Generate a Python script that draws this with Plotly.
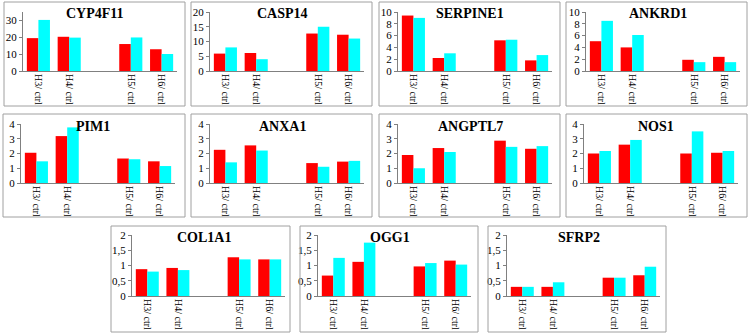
import plotly.graph_objects as go

categories = ["H3/ ctrl", "H4/ ctrl", " ", "H5/ ctrl", "H6/ ctrl"]
genes = ["CYP4F11", "CASP14", "SERPINE1", "ANKRD1", "PIM1", "ANXA1",
         "ANGPTL7", "NOS1", "COL1A1", "OGG1", "SFRP2"]

red_CYP4F11 = [19.5, 20.3, None, 16.0, 12.9]
cyan_CYP4F11 = [30.3, 19.8, None, 19.9, 10.1]
red_CASP14 = [5.9, 6.1, None, 12.7, 12.3]
cyan_CASP14 = [8.0, 4.0, None, 15.0, 11.0]
red_SERPINE1 = [9.4, 2.2, None, 5.2, 1.8]
cyan_SERPINE1 = [9.0, 3.0, None, 5.3, 2.7]
red_ANKRD1 = [5.05, 4.0, None, 1.9, 2.4]
cyan_ANKRD1 = [8.5, 6.1, None, 1.5, 1.5]
red_PIM1 = [2.05, 3.18, None, 1.66, 1.47]
cyan_PIM1 = [1.47, 3.77, None, 1.61, 1.15]
red_ANXA1 = [2.25, 2.55, None, 1.35, 1.45]
cyan_ANXA1 = [1.4, 2.2, None, 1.1, 1.5]
red_ANGPTL7 = [1.9, 2.37, None, 2.87, 2.32]
cyan_ANGPTL7 = [1.0, 2.1, None, 2.45, 2.5]
red_NOS1 = [2.0, 2.6, None, 2.0, 2.05]
cyan_NOS1 = [2.17, 2.92, None, 3.5, 2.17]
red_COL1A1 = [0.88, 0.92, None, 1.27, 1.2]
cyan_COL1A1 = [0.8, 0.85, None, 1.2, 1.2]
red_OGG1 = [0.67, 1.12, None, 0.97, 1.16]
cyan_OGG1 = [1.25, 1.75, None, 1.08, 1.03]
red_SFRP2 = [0.3, 0.3, None, 0.6, 0.68]
cyan_SFRP2 = [0.3, 0.45, None, 0.6, 0.96]

red_vals = [red_CYP4F11, red_CASP14, red_SERPINE1, red_ANKRD1, red_PIM1, red_ANXA1,
            red_ANGPTL7, red_NOS1, red_COL1A1, red_OGG1, red_SFRP2]
cyan_vals = [cyan_CYP4F11, cyan_CASP14, cyan_SERPINE1, cyan_ANKRD1, cyan_PIM1, cyan_ANXA1,
             cyan_ANGPTL7, cyan_NOS1, cyan_COL1A1, cyan_OGG1, cyan_SFRP2]

y_max = [35, 20, 10, 10, 4, 4, 4, 4, 2, 2, 2]
y_dtick = [10, 5, 2, 2, 1, 1, 1, 1, 0.5, 0.5, 0.5]

W, H = 752, 336
# pixel layout: (axis_x0, axis_x1, zero_y, top_y, box_x0, box_x1, box_y0, box_y1)
panels = [
    (23, 177, 71, 12, 4, 185, 2, 106),
    (210, 364, 71, 12, 191, 372, 2, 106),
    (398, 552, 71, 12, 379, 560, 2, 106),
    (586, 740, 71, 12, 566, 747, 2, 106),
    (21, 175, 183, 124, 3, 185, 114, 217),
    (210, 364, 183, 124, 191, 372, 114, 217),
    (398, 552, 183, 124, 379, 560, 114, 217),
    (584, 738, 183, 124, 566, 747, 114, 217),
    (132, 285, 296, 235, 111, 290, 226, 332),
    (318, 471, 296, 235, 300, 478, 226, 332),
    (507, 660, 296, 235, 488, 666, 226, 332),
]

font_fam = "Liberation Serif, DejaVu Serif, serif"
fig = go.Figure()
layout = dict(
    width=W, height=H, margin=dict(l=0, r=0, t=0, b=0, autoexpand=False),
    paper_bgcolor="white", plot_bgcolor="white", showlegend=False,
    barmode="group", bargap=0.25, bargroupgap=0,
    font=dict(family=font_fam, color="black", size=10),
)
shapes = []
annotations = []

def fmt(v):
    return ("%g" % v).replace(".", ",")

for i, g in enumerate(genes):
    ax0, ax1, zy, ty, bx0, bx1, by0, by1 = panels[i]
    n = i + 1
    xa = "x" if n == 1 else "x%d" % n
    ya = "y" if n == 1 else "y%d" % n
    fig.add_trace(go.Bar(x=categories, y=red_vals[i], marker=dict(color="#FF0000", line=dict(width=0)),
                         xaxis=xa, yaxis=ya))
    fig.add_trace(go.Bar(x=categories, y=cyan_vals[i], marker=dict(color="#00FFFF", line=dict(width=0)),
                         xaxis=xa, yaxis=ya))
    tv = []
    v = 0.0
    while v <= y_max[i] + 1e-9:
        tv.append(round(v, 3))
        v += y_dtick[i]
    layout["xaxis" + ("" if n == 1 else str(n))] = dict(
        domain=[ax0 / W, ax1 / W], anchor=ya, type="category",
        categoryorder="array", categoryarray=categories, range=[-0.5, 4.5],
        showline=True, linecolor="#808080", linewidth=1, ticks="", tickangle=90,
        tickfont=dict(family=font_fam, size=10, color="black"), showgrid=False,
        fixedrange=True, automargin=False,
    )
    layout["yaxis" + ("" if n == 1 else str(n))] = dict(
        domain=[1 - zy / H, 1 - ty / H], anchor=xa, range=[0, y_max[i]],
        tickvals=tv, ticktext=[fmt(t) for t in tv],
        showline=True, linecolor="#808080", linewidth=1, ticks="outside", ticklen=3,
        tickcolor="#808080", showgrid=False, zeroline=False,
        tickfont=dict(family=font_fam, size=11, color="black"), fixedrange=True,
        automargin=False,
    )
    shapes.append(dict(type="rect", xref="paper", yref="paper",
                       x0=bx0 / W, x1=bx1 / W, y0=1 - by1 / H, y1=1 - by0 / H,
                       line=dict(color="#A0A0A0", width=1), fillcolor="rgba(0,0,0,0)"))
    annotations.append(dict(xref="paper", yref="paper", x=((ax0 + ax1) / 2 - 5) / W,
                            y=1 - (ty + 2) / H, text="<b>%s</b>" % g, showarrow=False,
                            xanchor="center", yanchor="middle",
                            font=dict(family=font_fam, size=14, color="black")))

layout["shapes"] = shapes
layout["annotations"] = annotations
fig.update_layout(**layout)
fig.write_html("out.html", config={"displayModeBar": False},
               post_script="document.body.style.margin='0';document.body.style.overflow='hidden';")
